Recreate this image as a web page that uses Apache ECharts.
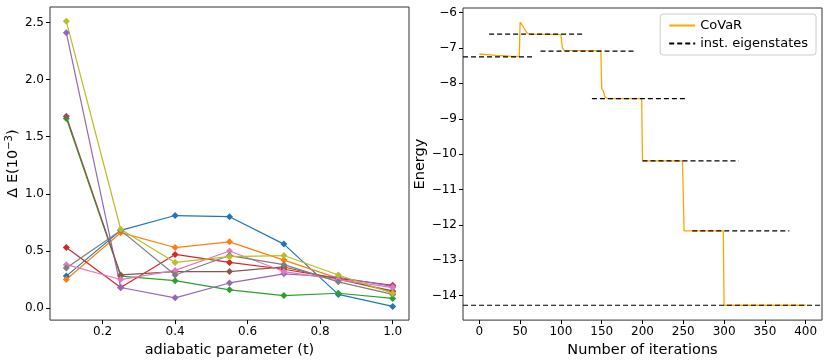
<!DOCTYPE html>
<html>
<head>
<meta charset="utf-8">
<script src="https://cdn.jsdelivr.net/npm/echarts@6/dist/echarts.min.js"></script>
<style>
  html, body { margin: 0; padding: 0; background: #fff; }
  #chart { width: 830px; height: 363px; }
</style>
</head>
<body>
<div id="chart"></div>
<script>
// left panel: energy error vs adiabatic parameter
const tValues = [0.1, 0.25, 0.4, 0.55, 0.7, 0.85, 1.0];
const runBlue   = [0.28, 0.68, 0.81, 0.80, 0.56, 0.12, 0.015];
const runOrange = [0.25, 0.66, 0.53, 0.58, 0.42, 0.26, 0.14];
const runGreen  = [1.66, 0.28, 0.24, 0.16, 0.11, 0.13, 0.085];
const runRed    = [0.53, 0.18, 0.47, 0.40, 0.34, 0.26, 0.20];
const runPurple = [2.41, 0.18, 0.09, 0.22, 0.30, 0.27, 0.19];
const runBrown  = [1.68, 0.29, 0.32, 0.32, 0.36, 0.25, 0.15];
const runPink   = [0.38, 0.25, 0.33, 0.50, 0.32, 0.25, 0.18];
const runGray   = [0.35, 0.68, 0.29, 0.46, 0.38, 0.23, 0.12];
const runOlive  = [2.51, 0.69, 0.40, 0.45, 0.46, 0.29, 0.13];
const leftXTicks = [0.2, 0.4, 0.6, 0.8, 1.0];
const leftYTicks = [0.0, 0.5, 1.0, 1.5, 2.0, 2.5];

// right panel: CoVaR energy vs iterations
const covar = [
  [0, -7.17], [10, -7.19], [20, -7.21], [30, -7.22], [40, -7.235], [49, -7.24],
  [50, -6.27], [52, -6.33], [55, -6.45], [58, -6.56], [61, -6.61], [100, -6.62],
  [101, -6.85], [102, -7.0], [104, -7.07], [149, -7.08],
  [150, -8.15], [152, -8.22], [154, -8.38], [157, -8.43], [199, -8.43],
  [200, -10.19], [249, -10.19], [251, -12.17], [299, -12.17],
  [300, -14.27], [400, -14.27]
];
// eigenstate segments: [start, end, energy]
const eigenSegments = [
  [-20, 65, -7.25],
  [12, 129, -6.61],
  [75, 192, -7.09],
  [138, 254, -8.43],
  [200, 318, -10.19],
  [261, 380, -12.17],
  [-20, 420, -14.27]
];
const rightXTicks = [0, 50, 100, 150, 200, 250, 300, 350, 400];
const rightYTicks = [-14, -13, -12, -11, -10, -9, -8, -7, -6];

const leftRuns = [
  ['#1f77b4', runBlue], ['#ff7f0e', runOrange], ['#2ca02c', runGreen],
  ['#d62728', runRed], ['#9467bd', runPurple], ['#8c564b', runBrown],
  ['#e377c2', runPink], ['#7f7f7f', runGray], ['#bcbd22', runOlive]
];

const font = 'DejaVu Sans';
const tickLabel = { fontFamily: font, fontSize: 12, color: '#000' };
const tick = { show: true, inside: false, length: 4, lineStyle: { color: '#000' } };
const noLine = { show: false, onZero: false };

const series = [];
leftRuns.forEach(([color, vals], i) => {
  series.push({
    name: 'run' + i,
    type: 'line',
    xAxisIndex: 0, yAxisIndex: 0,
    data: tValues.map((t, j) => [t, vals[j]]),
    symbol: 'diamond',
    symbolSize: 7,
    color: color,
    lineStyle: { width: 1.2 },
    animation: false
  });
});
series.push({
  name: 'CoVaR',
  type: 'line',
  xAxisIndex: 1, yAxisIndex: 1,
  data: covar,
  symbol: 'none',
  color: '#ffa500',
  lineStyle: { width: 1.3 },
  animation: false
});
eigenSegments.forEach(([a, b, e]) => {
  series.push({
    name: 'inst. eigenstates',
    type: 'line',
    xAxisIndex: 1, yAxisIndex: 1,
    data: [[a, e], [b, e]],
    symbol: 'none',
    color: '#000',
    lineStyle: { width: 1.2, type: [5, 3] },
    z: 3,
    animation: false
  });
});

const chart = echarts.init(document.getElementById('chart'));
chart.setOption({
  backgroundColor: '#fff',
  grid: [
    { left: 50, top: 7, width: 359, height: 315, show: true, borderColor: '#333', borderWidth: 1 },
    { left: 463, top: 8, width: 359, height: 314, show: true, borderColor: '#333', borderWidth: 1 }
  ],
  legend: {
    data: ['CoVaR', 'inst. eigenstates'],
    orient: 'vertical',
    right: 14, top: 14,
    itemWidth: 26, itemHeight: 10, itemGap: 5,
    padding: [5, 8, 5, 8],
    itemStyle: { opacity: 0 },
    borderColor: '#ccc', borderWidth: 1, borderRadius: 3,
    backgroundColor: '#fff',
    textStyle: { fontFamily: font, fontSize: 13, color: '#000' }
  },
  xAxis: [
    {
      type: 'value', gridIndex: 0, min: 0.055, max: 1.045,
      name: 'adiabatic parameter (t)', nameLocation: 'middle', nameGap: 16,
      nameTextStyle: { fontFamily: font, fontSize: 14.5, color: '#000' },
      axisLine: noLine, splitLine: { show: false },
      axisTick: Object.assign({ customValues: leftXTicks }, tick),
      axisLabel: Object.assign({ customValues: leftXTicks, margin: 6, formatter: v => v.toFixed(1) }, tickLabel)
    },
    {
      type: 'value', gridIndex: 1, min: -20, max: 420,
      name: 'Number of iterations', nameLocation: 'middle', nameGap: 16,
      nameTextStyle: { fontFamily: font, fontSize: 14.5, color: '#000' },
      axisLine: noLine, splitLine: { show: false },
      axisTick: Object.assign({ customValues: rightXTicks }, tick),
      axisLabel: Object.assign({ customValues: rightXTicks, margin: 6 }, tickLabel)
    }
  ],
  yAxis: [
    {
      type: 'value', gridIndex: 0, min: -0.105, max: 2.635,
      name: '{a|Δ E(10}{s|−3}{a|)}', nameLocation: 'middle', nameGap: 27, nameRotate: 90,
      nameTextStyle: {
        fontFamily: font, fontSize: 14.5, color: '#000',
        rich: {
          a: { fontFamily: font, fontSize: 14.5, color: '#000' },
          s: { fontFamily: font, fontSize: 10, color: '#000', padding: [0, 0, 9, 0] }
        }
      },
      axisLine: noLine, splitLine: { show: false },
      axisTick: Object.assign({ customValues: leftYTicks }, tick),
      axisLabel: Object.assign({ customValues: leftYTicks, margin: 6, formatter: v => v.toFixed(1) }, tickLabel)
    },
    {
      type: 'value', gridIndex: 1, min: -14.69, max: -5.87,
      name: 'Energy', nameLocation: 'middle', nameGap: 30, nameRotate: 90,
      nameTextStyle: { fontFamily: font, fontSize: 14.5, color: '#000' },
      axisLine: noLine, splitLine: { show: false },
      axisTick: Object.assign({ customValues: rightYTicks }, tick),
      axisLabel: Object.assign({ customValues: rightYTicks, margin: 6, formatter: v => String(v).replace('-', '\u2212') }, tickLabel)
    }
  ],
  series: series
});
</script>
</body>
</html>
